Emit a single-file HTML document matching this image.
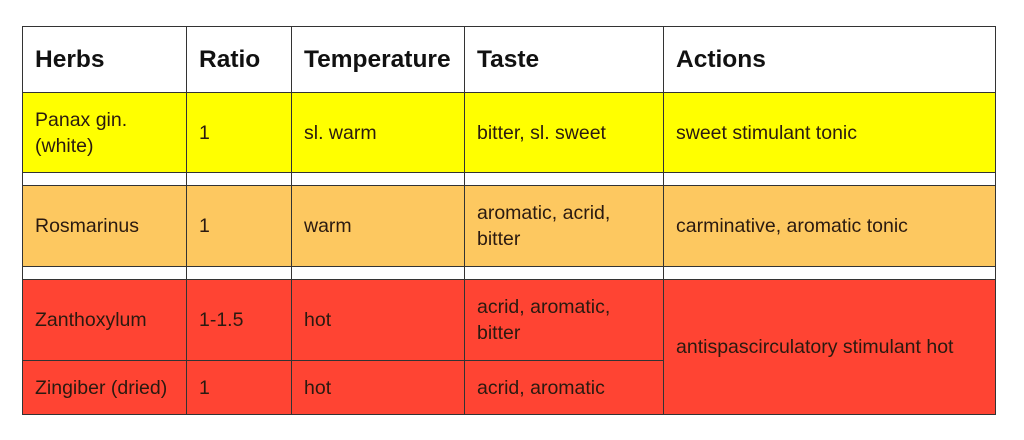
<!DOCTYPE html>
<html><head><meta charset="utf-8"><style>
html,body{margin:0;padding:0;background:#fff;width:1024px;height:440px;overflow:hidden;}
#t{position:absolute;left:0;top:0;width:1024px;height:440px;font-family:"Liberation Sans",sans-serif;}
.c{position:absolute;box-sizing:border-box;border:1px solid #333;display:flex;align-items:center;padding-left:12px;padding-right:4px;font-size:19.5px;line-height:26px;color:#2a1a10;white-space:nowrap;}
.h{font-weight:bold;font-size:24.5px;color:#111;background:#fff;}
.y{background:#ffff00;}
.o{background:#fdc860;}
.r{background:#ff4433;}
.w{background:#fff;}
</style></head><body>
<div id="t">
<div class="c h" style="left:22px;top:26px;width:165px;height:67px">Herbs</div>
<div class="c h" style="left:186px;top:26px;width:106px;height:67px">Ratio</div>
<div class="c h" style="left:291px;top:26px;width:174px;height:67px">Temperature</div>
<div class="c h" style="left:464px;top:26px;width:200px;height:67px">Taste</div>
<div class="c h" style="left:663px;top:26px;width:333px;height:67px">Actions</div>
<div class="c y" style="left:22px;top:92px;width:165px;height:81px">Panax gin.<br>(white)</div>
<div class="c y" style="left:186px;top:92px;width:106px;height:81px">1</div>
<div class="c y" style="left:291px;top:92px;width:174px;height:81px">sl. warm</div>
<div class="c y" style="left:464px;top:92px;width:200px;height:81px">bitter, sl. sweet</div>
<div class="c y" style="left:663px;top:92px;width:333px;height:81px">sweet stimulant tonic</div>
<div class="c w" style="left:22px;top:172px;width:165px;height:14px"></div>
<div class="c w" style="left:186px;top:172px;width:106px;height:14px"></div>
<div class="c w" style="left:291px;top:172px;width:174px;height:14px"></div>
<div class="c w" style="left:464px;top:172px;width:200px;height:14px"></div>
<div class="c w" style="left:663px;top:172px;width:333px;height:14px"></div>
<div class="c o" style="left:22px;top:185px;width:165px;height:82px">Rosmarinus</div>
<div class="c o" style="left:186px;top:185px;width:106px;height:82px">1</div>
<div class="c o" style="left:291px;top:185px;width:174px;height:82px">warm</div>
<div class="c o" style="left:464px;top:185px;width:200px;height:82px">aromatic, acrid,<br>bitter</div>
<div class="c o" style="left:663px;top:185px;width:333px;height:82px">carminative, aromatic tonic</div>
<div class="c w" style="left:22px;top:266px;width:165px;height:14px"></div>
<div class="c w" style="left:186px;top:266px;width:106px;height:14px"></div>
<div class="c w" style="left:291px;top:266px;width:174px;height:14px"></div>
<div class="c w" style="left:464px;top:266px;width:200px;height:14px"></div>
<div class="c w" style="left:663px;top:266px;width:333px;height:14px"></div>
<div class="c r" style="left:22px;top:279px;width:165px;height:82px">Zanthoxylum</div>
<div class="c r" style="left:186px;top:279px;width:106px;height:82px">1-1.5</div>
<div class="c r" style="left:291px;top:279px;width:174px;height:82px">hot</div>
<div class="c r" style="left:464px;top:279px;width:200px;height:82px">acrid, aromatic,<br>bitter</div>
<div class="c r" style="left:663px;top:279px;width:333px;height:136px">antispascirculatory stimulant hot</div>
<div class="c r" style="left:22px;top:360px;width:165px;height:55px">Zingiber (dried)</div>
<div class="c r" style="left:186px;top:360px;width:106px;height:55px">1</div>
<div class="c r" style="left:291px;top:360px;width:174px;height:55px">hot</div>
<div class="c r" style="left:464px;top:360px;width:200px;height:55px">acrid, aromatic</div>
</div>
</body></html>
